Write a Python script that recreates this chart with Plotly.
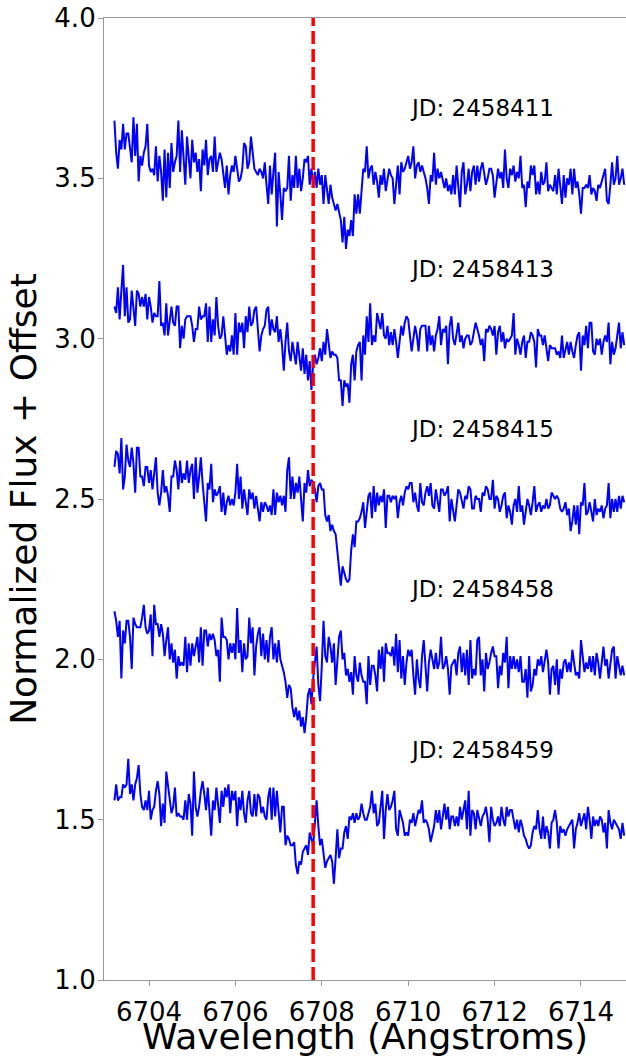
import numpy as np
import plotly.graph_objects as go

# Spectral sampling grid (Angstroms)
wl_start = 6703.2
wl_step = 0.04

jd_labels = ["2458411", "2458413", "2458415", "2458458", "2458459"]
offsets = [2.5, 2.0, 1.5, 1.0, 0.5]
li_line = 6707.8
x_ticks = [6704, 6706, 6708, 6710, 6712, 6714]
y_ticks = [1.0, 1.5, 2.0, 2.5, 3.0, 3.5, 4.0]

flux_2458411 = [
    1.18, 1.08, 1.03, 1.12, 1.09, 1.17, 1.09, 1.14, 1.14, 1.09,
    1.05, 1.19, 1.07, 1.17, 0.99, 1.07, 1.04, 1.08, 1.10, 1.17,
    1.04, 1.02, 1.03, 1.01, 1.10, 0.99, 1.07, 1.02, 0.93, 1.09,
    0.94, 1.08, 0.97, 1.11, 1.02, 1.05, 1.07, 1.18, 1.02, 1.15,
    1.07, 0.98, 1.13, 1.05, 1.00, 1.12, 1.05, 1.08, 1.02, 1.06,
    0.96, 1.09, 1.04, 1.12, 1.01, 1.06, 1.07, 1.02, 1.13, 1.02,
    1.05, 1.08, 1.06, 1.01, 0.97, 1.04, 0.95, 1.01, 1.04, 1.02,
    1.07, 1.03, 0.99, 1.00, 1.03, 1.11, 1.10, 1.03, 1.05, 1.13,
    1.07, 1.03, 1.02, 1.01, 1.03, 1.02, 1.00, 1.05, 0.98, 0.92,
    1.04, 0.95, 1.02, 1.08, 0.85, 1.02, 0.95, 0.87, 0.97, 0.96,
    0.97, 1.07, 0.93, 1.01, 0.97, 1.07, 0.97, 1.03, 0.96, 1.00,
    1.06, 1.05, 1.07, 0.98, 1.03, 0.98, 1.02, 0.97, 1.03, 0.98,
    1.01, 0.92, 1.01, 0.97, 0.92, 0.98, 0.94, 0.92, 0.90, 0.92,
    0.89, 0.87, 0.80, 0.88, 0.78, 0.84, 0.82, 0.87, 0.82, 0.95,
    0.89, 0.95, 0.89, 0.97, 1.03, 1.02,
    1.10, 1.00, 1.03, 1.04, 0.98, 1.02, 0.99, 0.94, 1.01, 0.98,
    1.03, 0.96, 0.99, 1.03, 1.01, 1.00, 0.92, 0.99, 1.04, 0.95,
    1.05, 1.02, 1.03, 1.05, 1.07, 1.03, 1.05, 1.10, 1.00, 1.04,
    1.05, 1.02, 1.04, 1.02, 1.00, 0.97, 0.92, 1.01, 0.99, 1.08,
    0.98, 1.03, 1.00, 1.02, 0.99, 0.97, 1.00, 0.96, 0.98, 0.95,
    1.01, 0.95, 1.04, 0.98, 0.91, 1.02, 1.05, 0.95, 0.98, 1.03,
    0.96, 1.02, 1.04, 0.98, 1.04, 0.99, 1.03, 1.05, 1.01, 0.98,
    1.00, 1.03, 1.03, 1.01, 0.94, 0.99, 1.03, 1.00, 1.02, 0.97,
    1.09, 1.00, 0.97, 1.03, 1.01, 1.04, 0.99, 1.02, 1.00, 1.07,
    0.97, 0.98, 0.91, 0.99, 0.97, 1.04, 1.01, 1.04, 0.95, 0.99,
    0.95, 1.02, 0.98, 0.99, 1.05, 0.96, 0.98, 0.97, 0.96, 1.01,
    0.95, 1.03, 0.97, 0.92, 1.01, 0.94, 1.00, 0.98, 1.03, 0.95,
    1.03, 0.97, 0.99, 0.95, 0.89, 0.97, 0.97, 0.98, 0.97, 1.01,
    0.95, 0.97, 0.96, 0.93, 0.98, 0.97, 0.99, 1.01, 1.03, 0.93,
    0.92, 0.98, 1.05, 0.98, 1.00, 1.07, 0.98, 1.00, 1.03, 0.98,
]

flux_2458413 = [
    1.10, 1.08, 1.16, 1.06, 1.15, 1.23, 1.07, 1.16, 1.05, 1.06,
    1.15, 1.10, 1.04, 1.15, 1.14, 1.10, 1.13, 1.10, 1.14, 1.06,
    1.13, 1.10, 1.05, 1.08, 1.07, 1.07, 1.18, 1.04, 1.05, 1.01,
    1.11, 1.01, 1.05, 1.10, 1.05, 1.04, 1.10, 1.10, 0.97, 1.04,
    1.00, 1.06, 1.07, 1.07, 1.07, 1.04, 0.99, 1.03, 1.03, 1.10,
    1.06, 1.07, 1.07, 1.11, 0.99, 1.10, 0.99, 1.06, 1.01, 1.13,
    1.04, 1.00, 1.01, 1.07, 1.00, 0.95, 0.98, 0.96, 1.01, 0.95,
    1.08, 0.95, 1.05, 1.02, 1.05, 0.97, 1.07, 1.02, 1.10, 1.04,
    1.05, 1.09, 1.10, 1.02, 0.96, 1.01, 1.03, 1.04, 1.09, 1.10,
    1.01, 1.06, 1.03, 1.02, 1.07, 0.99, 1.03, 0.98, 0.90, 0.99,
    1.05, 0.96, 0.93, 0.99, 0.95, 0.92, 0.99, 0.95, 0.90, 0.97,
    0.89, 0.95, 0.87, 0.93, 0.84, 0.92, 0.95, 0.92, 0.94, 0.97,
    0.93, 0.99, 0.95, 1.03, 0.98, 0.94, 0.96, 0.95, 0.95, 0.94,
    0.87, 0.87, 0.79, 0.87, 0.85, 0.86, 0.80, 0.92, 0.95, 0.87,
    0.96, 0.98, 0.99, 0.87, 1.01, 0.95,
    1.07, 0.99, 1.11, 0.98, 1.01, 0.99, 1.08, 1.05, 1.03, 1.08,
    1.01, 1.00, 1.04, 0.98, 1.02, 0.98, 1.03, 0.99, 0.94, 0.99,
    1.04, 1.01, 1.05, 1.07, 1.06, 1.01, 0.96, 1.00, 1.04, 1.01,
    0.96, 1.03, 1.04, 1.04, 1.04, 0.96, 1.04, 0.98, 1.01, 0.96,
    1.01, 1.03, 1.07, 0.98, 1.03, 1.02, 1.04, 0.92, 1.04, 1.07,
    1.00, 0.98, 1.01, 1.05, 0.99, 1.01, 0.97, 1.00, 1.01, 1.01,
    0.98, 0.99, 1.02, 1.05, 1.03, 1.01, 0.98, 1.00, 0.93, 1.03,
    1.02, 1.04, 1.03, 1.01, 1.04, 0.95, 1.02, 1.04, 0.99, 1.02,
    0.97, 1.00, 0.99, 1.00, 1.01, 1.08, 0.95, 1.00, 0.98, 0.95,
    0.99, 1.01, 0.94, 0.99, 0.99, 1.02, 1.01, 0.99, 0.91, 1.03,
    1.01, 1.01, 0.98, 1.01, 0.97, 0.93, 0.98, 0.97, 0.97, 0.97,
    0.95, 0.96, 0.94, 1.01, 0.94, 0.97, 0.99, 0.95, 0.99, 0.96,
    0.94, 0.98, 1.01, 1.02, 0.90, 1.01, 0.98, 1.04, 0.97, 1.05,
    1.05, 0.96, 0.95, 1.00, 0.98, 1.00, 0.95, 0.99, 1.01, 0.99,
    1.05, 0.92, 0.99, 0.95, 0.97, 1.01, 1.05, 0.97, 1.02, 0.98,
]

flux_2458415 = [
    1.10, 1.15, 1.14, 1.08, 1.19, 1.03, 1.07, 1.17, 1.12, 1.10,
    1.16, 1.11, 1.02, 1.16, 1.16, 1.07, 1.07, 1.04, 1.10, 1.10,
    1.05, 1.09, 1.03, 1.09, 1.13, 1.02, 0.98, 1.02, 1.09, 1.02,
    1.04, 1.01, 0.96, 1.07, 1.07, 1.12, 1.09, 1.03, 1.12, 1.05,
    1.08, 1.06, 1.12, 1.05, 1.09, 1.11, 1.00, 1.13, 1.02, 1.07,
    1.13, 1.05, 1.00, 0.93, 1.05, 1.03, 1.11, 0.99, 1.03, 1.01,
    1.02, 1.04, 0.96, 1.02, 0.95, 0.99, 1.01, 0.98, 1.00, 0.98,
    1.02, 1.11, 1.00, 1.07, 0.97, 1.03, 0.99, 0.95, 1.03, 1.00,
    1.02, 0.97, 1.01, 0.97, 0.93, 0.99, 0.96, 0.99, 0.98, 0.96,
    0.98, 0.95, 1.03, 0.95, 1.02, 0.99, 1.01, 0.98, 1.01, 0.96,
    1.09, 1.13, 1.00, 1.07, 1.00, 1.05, 1.02, 1.07, 1.00, 0.93,
    1.05, 1.02, 1.09, 1.04, 1.06, 1.05, 1.03, 0.99, 1.04, 1.05,
    1.03, 1.03, 0.95, 0.93, 0.95, 0.90, 0.92, 0.90, 0.89, 0.84,
    0.78, 0.73, 0.79, 0.77, 0.75, 0.74, 0.75, 0.84, 0.89, 0.85,
    0.93, 0.93, 0.94, 0.96, 0.99, 0.91,
    0.96, 1.01, 1.02, 0.94, 1.04, 0.96, 1.02, 0.98, 1.01, 0.99,
    1.03, 0.91, 1.01, 1.01, 0.99, 1.01, 1.00, 1.01, 0.94, 0.99,
    1.01, 0.98, 1.02, 1.04, 1.03, 1.05, 1.05, 0.99, 1.02, 0.98,
    0.96, 1.05, 0.99, 0.98, 1.02, 1.04, 1.01, 1.05, 0.98, 0.97,
    1.03, 0.99, 0.96, 1.03, 1.03, 1.01, 1.02, 1.04, 0.93, 1.00,
    0.97, 0.93, 0.98, 1.03, 1.02, 0.99, 0.97, 1.01, 1.00, 1.04,
    1.03, 0.97, 0.97, 1.01, 1.00, 1.00, 0.96, 1.02, 1.01, 1.04,
    1.03, 1.00, 1.00, 1.06, 0.97, 1.01, 1.00, 0.96, 0.98, 1.01,
    1.02, 0.94, 0.98, 0.96, 0.92, 0.98, 1.00, 0.96, 1.04, 0.96,
    0.98, 0.92, 0.96, 1.00, 0.98, 0.95, 0.99, 1.04, 0.96, 0.98,
    0.99, 0.96, 0.98, 0.97, 1.00, 0.97, 0.98, 1.02, 1.01, 1.00,
    1.01, 1.00, 0.97, 0.96, 0.97, 0.99, 0.95, 0.97, 0.90, 0.93,
    0.98, 0.92, 0.98, 0.89, 0.99, 0.98, 1.05, 0.95, 0.96, 0.99,
    0.96, 0.93, 1.00, 0.95, 0.97, 0.96, 0.98, 0.94, 0.97, 0.98,
    1.05, 0.94, 1.00, 0.96, 1.00, 0.96, 1.01, 0.97, 1.01, 0.99,
]

flux_2458458 = [
    1.15, 1.12, 1.07, 1.12, 0.94, 1.09, 1.05, 1.12, 1.12, 1.07,
    0.97, 1.13, 1.11, 1.10, 1.10, 1.10, 1.13, 1.17, 1.10, 1.08,
    1.09, 1.14, 1.01, 1.17, 1.11, 1.11, 1.07, 1.11, 1.08, 1.01,
    1.06, 1.10, 1.00, 1.05, 0.99, 1.03, 0.94, 1.01, 0.98, 0.99,
    0.98, 1.07, 0.96, 1.05, 0.98, 1.05, 1.01, 1.04, 1.07, 0.99,
    1.10, 0.98, 1.09, 1.09, 1.04, 1.08, 1.06, 1.08, 1.06, 1.01,
    1.03, 0.93, 1.13, 1.07, 1.07, 1.06, 1.00, 1.05, 1.02, 1.05,
    1.00, 1.16, 1.02, 1.06, 0.96, 1.05, 1.00, 1.01, 1.13, 1.05,
    1.10, 0.95, 1.04, 1.08, 1.10, 1.01, 1.08, 1.00, 1.06, 0.99,
    1.07, 1.10, 1.00, 1.05, 0.99, 1.06, 1.00, 0.98, 0.96, 0.93,
    0.88, 0.92, 0.91, 0.85, 0.82, 0.85, 0.81, 0.84, 0.79, 0.82,
    0.77, 0.82, 0.89, 0.91, 0.86, 0.94, 1.00, 1.04, 0.92, 0.87,
    0.98, 1.12, 1.01, 0.99, 1.07, 1.04, 0.99, 1.05, 0.92, 1.01,
    1.07, 1.09, 1.00, 1.02, 0.95, 0.97, 0.93, 0.96, 0.89, 1.01,
    0.95, 0.93, 0.99, 0.95, 0.93, 0.93,
    0.86, 1.01, 0.92, 0.98, 0.98, 0.95, 0.90, 1.03, 0.97, 1.04,
    0.93, 1.05, 1.02, 1.02, 1.01, 1.04, 0.98, 1.08, 0.96, 1.06,
    0.94, 1.01, 0.92, 0.99, 1.03, 1.01, 1.03, 0.95, 0.89, 1.00,
    0.94, 0.91, 1.01, 1.06, 0.97, 0.90, 0.99, 1.03, 1.00, 0.97,
    1.02, 0.97, 0.99, 1.07, 0.97, 0.98, 1.01, 0.97, 0.89, 0.98,
    0.99, 1.00, 0.95, 1.02, 1.04, 0.96, 1.02, 0.95, 1.03, 0.92,
    1.06, 0.94, 0.97, 0.95, 1.06, 1.07, 0.95, 1.00, 0.90, 1.02,
    0.97, 0.99, 1.02, 1.04, 1.01, 1.01, 0.91, 0.98, 0.95, 1.02,
    0.99, 1.07, 0.91, 1.01, 0.97, 1.01, 0.97, 1.00, 0.96, 1.01,
    0.93, 0.93, 0.97, 0.88, 1.01, 0.90, 0.92, 0.97, 0.95, 1.00,
    0.98, 1.01, 0.96, 1.00, 1.03, 0.99, 0.89, 0.97, 0.98, 0.92,
    1.00, 0.89, 0.97, 0.94, 0.99, 1.00, 0.96, 0.99, 0.96, 1.03,
    0.98, 0.95, 0.96, 0.94, 1.06, 1.00, 0.96, 0.99, 0.97, 1.01,
    0.96, 1.01, 0.95, 1.02, 0.99, 0.94, 1.00, 1.04, 0.98, 1.00,
    0.94, 0.99, 1.03, 1.04, 0.94, 1.01, 0.98, 0.95, 0.98, 0.95,
]

flux_2458459 = [
    1.06, 1.11, 1.06, 1.07, 1.07, 1.11, 1.10, 1.11, 1.19, 1.08,
    1.11, 1.06, 1.11, 1.13, 1.17, 1.08, 1.04, 1.03, 1.06, 1.03,
    1.09, 1.00, 1.03, 1.04, 1.09, 1.12, 1.08, 0.98, 1.05, 0.99,
    1.15, 1.10, 1.06, 1.02, 1.04, 1.10, 1.01, 1.02, 1.01, 1.01,
    1.00, 1.06, 1.00, 1.08, 1.05, 0.95, 1.15, 1.04, 1.01, 1.04,
    1.09, 1.12, 1.08, 1.03, 1.10, 1.03, 0.95, 1.06, 1.03, 1.10,
    1.05, 0.99, 1.09, 1.04, 1.10, 1.07, 1.11, 1.02, 1.09, 1.06,
    1.09, 0.98, 1.07, 1.03, 1.09, 1.02, 0.99, 1.06, 1.09, 1.02,
    1.01, 1.08, 1.01, 1.08, 1.07, 1.02, 1.04, 1.01, 1.00, 1.07,
    1.10, 1.00, 1.10, 1.01, 1.09, 1.03, 0.96, 1.04, 1.04, 0.92,
    0.95, 0.94, 0.92, 0.92, 0.93, 0.86, 0.83, 0.87, 0.86, 0.90,
    0.91, 0.92, 0.89, 0.96, 0.94, 0.92, 0.99, 1.06, 0.98, 0.92,
    0.94, 0.90, 0.85, 0.87, 0.88, 0.89, 0.87, 0.80, 0.88, 0.97,
    0.88, 0.91, 0.91, 0.96, 0.98, 0.94, 1.01, 1.00, 1.02, 0.99,
    1.02, 1.00, 1.01, 1.05, 1.02, 1.00,
    1.00, 1.02, 1.04, 1.09, 1.02, 1.05, 0.98, 0.99, 1.04, 1.09,
    0.94, 1.03, 1.08, 1.03, 1.04, 1.06, 1.09, 0.97, 0.95, 1.03,
    1.01, 0.99, 0.95, 0.96, 0.95, 1.00, 0.99, 1.02, 0.98, 1.01,
    1.03, 1.02, 1.06, 0.99, 1.00, 0.99, 0.97, 0.93, 0.96, 0.98,
    1.03, 0.99, 1.03, 0.97, 1.01, 1.05, 1.00, 1.04, 0.97, 1.01,
    1.01, 0.98, 1.01, 0.98, 1.04, 1.00, 1.03, 1.06, 0.97, 1.09,
    0.95, 1.03, 1.02, 0.97, 1.03, 1.00, 0.98, 1.01, 1.02, 1.04,
    1.00, 0.93, 1.04, 1.00, 0.98, 0.99, 1.01, 0.98, 1.04, 1.00,
    0.98, 1.04, 1.01, 1.03, 1.03, 1.00, 0.97, 1.00, 0.96, 1.00,
    0.98, 0.95, 0.94, 0.92, 0.91, 0.92, 0.96, 0.98, 0.97, 1.03,
    0.97, 0.94, 1.01, 0.94, 0.98, 0.96, 0.91, 0.99, 1.00, 1.03,
    0.99, 0.91, 0.98, 0.96, 0.97, 0.95, 0.97, 0.98, 0.99, 1.00,
    0.91, 0.97, 0.99, 1.02, 0.98, 1.00, 1.02, 0.97, 1.04, 1.00,
    0.94, 1.01, 0.98, 1.00, 0.98, 1.01, 1.00, 0.96, 0.99, 0.91,
    1.03, 0.99, 0.97, 1.00, 0.99, 0.98, 0.97, 0.94, 0.99, 0.95,
]

spectra = [flux_2458411, flux_2458413, flux_2458415, flux_2458458, flux_2458459]

FONT = "DejaVu Sans"
fig = go.Figure()

for label, off, flux in zip(jd_labels, offsets, spectra):
    flux = np.asarray(flux)
    wl = wl_start + wl_step * np.arange(len(flux))
    fig.add_trace(go.Scatter(
        x=wl, y=flux + off, mode="lines",
        line=dict(color="#0000ff", width=2),
        showlegend=False, hoverinfo="skip",
    ))
    fig.add_annotation(
        x=6710.0, y=off + 1.2, text=f"JD: {label}",
        xref="x", yref="y", xanchor="left", yanchor="bottom",
        showarrow=False, yshift=-9,
        font=dict(family=FONT, size=23, color="black"),
    )

fig.add_shape(
    type="line", xref="x", yref="y",
    x0=li_line, x1=li_line, y0=1.0, y1=4.0,
    line=dict(color="red", width=3.5, dash="13px,5px"),
    layer="above",
)

axis_common = dict(
    showgrid=False, zeroline=False, showline=True,
    linecolor="#999999", linewidth=1.2,
    ticks="outside", ticklen=5, tickwidth=1.2, tickcolor="#999999",
    tickfont=dict(family=FONT, size=26, color="black"),
)

fig.update_layout(
    width=626, height=1057,
    margin=dict(l=104, r=0, t=18, b=77, autoexpand=False),
    paper_bgcolor="white", plot_bgcolor="white",
    font=dict(family=FONT, color="black"),
    xaxis=dict(
        range=[6702.958, 6715.042], tickvals=x_ticks, mirror=True,
        ticklabelstandoff=4,
        title=dict(text="Wavelength (Angstroms)", font=dict(family=FONT, size=36, color="black"), standoff=4),
        **axis_common,
    ),
    yaxis=dict(
        range=[1.0, 4.0], tickvals=y_ticks, tickformat=".1f",
        ticklabelstandoff=-3,
        title=dict(text="Normalized Flux + Offset", font=dict(family=FONT, size=36, color="black"), standoff=6),
        **axis_common,
    ),
)

fig.write_html("out.html")
